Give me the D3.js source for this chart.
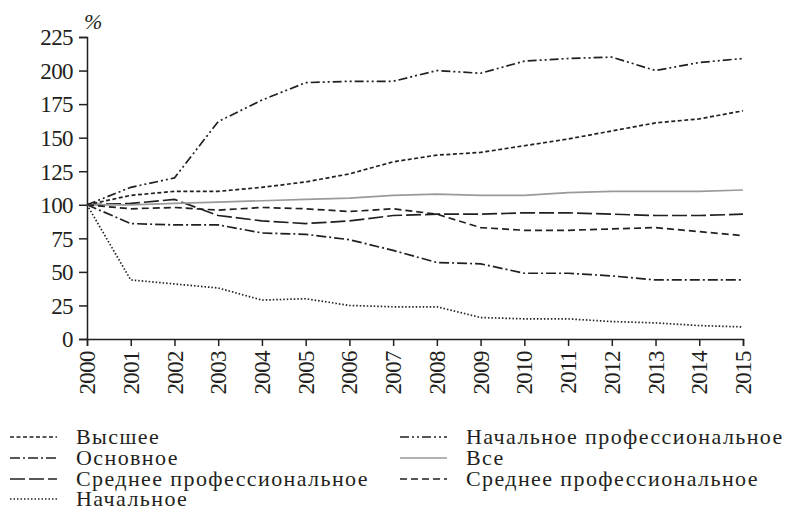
<!DOCTYPE html>
<html>
<head>
<meta charset="utf-8">
<script src="https://cdn.jsdelivr.net/npm/d3@7"></script>
<style>
  body { margin: 0; background: #fff; }
</style>
</head>
<body>
<svg id="chart" width="791" height="511"></svg>
<script>
// Data
const years = d3.range(2000, 2016);
const yTicks = [0, 25, 50, 75, 100, 125, 150, 175, 200, 225];

const vysshee       = [100, 107, 110, 110, 113, 117, 123, 132, 137, 139, 144, 149, 155, 161, 164, 170];
const osnovnoe      = [100, 86, 85, 85, 79, 78, 74, 66, 57, 56, 49, 49, 47, 44, 44, 44];
const srednProfA    = [100, 101, 104, 92, 88, 86, 88, 92, 93, 93, 94, 94, 93, 92, 92, 93];
const nachalnoe     = [100, 44, 41, 38, 29, 30, 25, 24, 24, 16, 15, 15, 13, 12, 10, 9];
const nachProf      = [100, 113, 120, 162, 178, 191, 192, 192, 200, 198, 207, 209, 210, 200, 206, 209];
const vse           = [100, 100, 101, 102, 103, 104, 105, 107, 108, 107, 107, 109, 110, 110, 110, 111];
const srednProfB    = [100, 97, 98, 96, 98, 97, 95, 97, 93, 83, 81, 81, 82, 83, 80, 77];

const series = [
  { name: "Высшее", values: vysshee, dash: "4,2.5", color: "#231f20", col: 0, row: 0 },
  { name: "Основное", values: osnovnoe, dash: "10,3,2,3", color: "#231f20", col: 0, row: 1 },
  { name: "Среднее профессиональное", values: srednProfA, dash: "15,4", color: "#231f20", col: 0, row: 2 },
  { name: "Начальное", values: nachalnoe, dash: "1.5,2", color: "#231f20", col: 0, row: 3 },
  { name: "Начальное профессиональное", values: nachProf, dash: "9,3,2,3,2,3", color: "#231f20", col: 1, row: 0 },
  { name: "Все", values: vse, dash: null, color: "#9a9a9a", col: 1, row: 1 },
  { name: "Среднее профессиональное", values: srednProfB, dash: "7,4", color: "#231f20", col: 1, row: 2 }
];

const FONT = "'Liberation Serif', 'Times New Roman', Times, serif";
const INK = "#231f20";

const svg = d3.select("#chart");
const margin = { left: 87, right: 48, top: 37, bottom: 172 };
const width = 791 - margin.left - margin.right;
const height = 511 - margin.top - margin.bottom;

const g = svg.append("g").attr("transform", `translate(${margin.left},${margin.top})`);

const x = d3.scaleLinear().domain([2000, 2015]).range([0, width]);
const y = d3.scaleLinear().domain([0, 225]).range([height, 0]);

// Axes
const yAxis = g.append("g")
  .call(d3.axisLeft(y).tickValues(yTicks).tickSize(8).tickPadding(6));
yAxis.select(".domain").attr("stroke", INK).attr("stroke-width", 1.5);
yAxis.selectAll(".tick line").attr("stroke", INK).attr("stroke-width", 1.5);
yAxis.selectAll(".tick text")
  .attr("dy", "0.34em");

const xAxis = g.append("g")
  .attr("transform", `translate(0,${height})`)
  .call(d3.axisBottom(x).tickValues(years).tickFormat(d3.format("d")).tickSize(7));
xAxis.select(".domain").attr("stroke", INK).attr("stroke-width", 1.5);
xAxis.selectAll(".tick line").attr("stroke", INK).attr("stroke-width", 1.5);
xAxis.selectAll(".tick text")
  .attr("transform", "rotate(-90)")
  .attr("text-anchor", "end")
  .attr("x", -12)
  .attr("y", 0)
  .attr("dy", "0.33em");

g.selectAll(".tick text")
  .style("font-family", FONT)
  .style("font-size", "23px")
  .style("letter-spacing", "-0.6px")
  .style("fill", INK);

// % label
g.append("text")
  .attr("x", -3)
  .attr("y", -8)
  .style("font-family", FONT)
  .style("font-size", "22px")
  .style("font-style", "italic")
  .style("fill", INK)
  .text("%");

// Lines
const line = d3.line()
  .x((d, i) => x(years[i]))
  .y(d => y(d));

g.selectAll(".series")
  .data(series)
  .enter().append("path")
  .attr("class", "series")
  .attr("fill", "none")
  .attr("stroke", d => d.color)
  .attr("stroke-width", 1.7)
  .attr("stroke-dasharray", d => d.dash)
  .attr("d", d => line(d.values));

// Legend
const legend = svg.append("g");
const colX = [10, 400];
const rowY = [437, 458, 479, 499];

const items = legend.selectAll(".leg")
  .data(series)
  .enter().append("g")
  .attr("transform", d => `translate(${colX[d.col]},${rowY[d.row]})`);

items.append("line")
  .attr("x1", 0).attr("x2", 47)
  .attr("y1", 0).attr("y2", 0)
  .attr("stroke", d => d.color)
  .attr("stroke-width", 1.7)
  .attr("stroke-dasharray", d => d.dash);

items.append("text")
  .attr("x", 66)
  .attr("y", 0)
  .attr("dy", "0.3em")
  .style("font-family", FONT)
  .style("font-size", "22px")
  .style("letter-spacing", "1.4px")
  .style("fill", INK)
  .text(d => d.name);
</script>
</body>
</html>
